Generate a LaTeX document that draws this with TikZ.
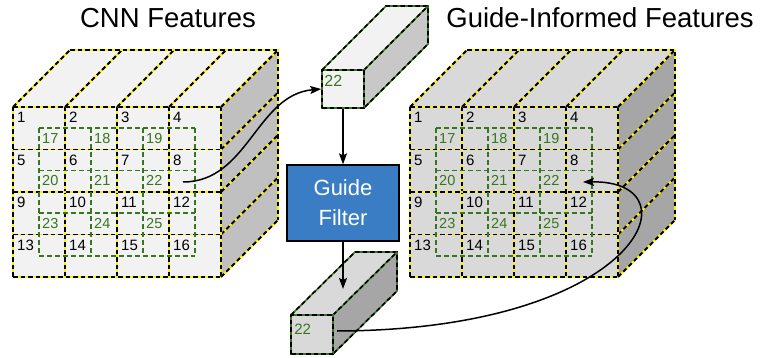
\documentclass[tikz,border=0pt]{standalone}
\usepackage{fontspec}
\setmainfont{Liberation Sans}
\usetikzlibrary{arrows.meta}

\definecolor{faceA}{RGB}{242,242,242}
\definecolor{sideA}{RGB}{192,192,192}
\definecolor{faceB}{RGB}{217,217,217}
\definecolor{sideB}{RGB}{166,166,166}
\definecolor{sideC}{RGB}{200,200,200}
\definecolor{winGreen}{RGB}{56,118,29}
\definecolor{filterBlue}{RGB}{58,125,196}

\begin{document}
\begin{tikzpicture}[x=1pt, y=-1pt,
    grid/.style = {draw=yellow, line width=1.8pt, postaction={draw=black, line width=1.8pt, dash pattern=on 4.5pt off 3pt}},
    bar/.style = {draw=winGreen, line width=1.6pt, postaction={draw=black, line width=1.6pt, dash pattern=on 4.5pt off 3pt}},
    win/.style = {draw=winGreen, line width=1.5pt, dash pattern=on 5pt off 3pt},
    num/.style = {anchor=north west, inner sep=0pt, font=\fontsize{15}{15}\selectfont},
    gnum/.style = {num, text=winGreen, font=\fontsize{14.5}{15}\selectfont},
    title/.style = {anchor=base, font=\fontsize{27.5}{30}\selectfont},
    filter/.style = {draw=black, line width=1.3pt, fill=filterBlue, text=white, align=center, minimum width=112pt, minimum height=76pt, font=\fontsize{22}{30}\selectfont},
    link/.style = {line width=1.5pt, -{Stealth[length=11pt, width=8pt, inset=2pt]}}]

    \useasboundingbox (0,0) rectangle (760,358);

    \node (cnn) [title] at (168,28) {CNN Features};
    \node (gif) [title] at (600,28) {Guide-Informed Features};

    \foreach \s/\ox/\fc/\sc in {L/13/faceA/sideA, R/410/faceB/sideB}
    {
      \fill [\fc] (\ox,107) -- ++(57,-57) -- ++(208,0) -- ++(-57,57) -- cycle;
      \fill [\sc] (\ox+208,107) -- ++(57,-57) -- ++(0,170) -- ++(-57,57) -- cycle;
      \fill [\fc] (\ox,107) rectangle ++(208,170);

      \foreach \i in {0,...,4}
      {
        \draw [grid] (\ox+52*\i,107) -- ++(0,170);
        \draw [grid] (\ox+52*\i,107) -- ++(57,-57);
        \draw [grid] (\ox,107+42.5*\i) -- ++(208,0);
        \draw [grid] (\ox+208,107+42.5*\i) -- ++(57,-57);
      }
      \draw [grid] (\ox+57,50) -- ++(208,0) -- ++(0,170);

      \foreach \i in {0,...,3}
      {
        \draw [win] (\ox+26+52*\i,128.25) -- ++(0,127.5);
        \draw [win] (\ox+26,128.25+42.5*\i) -- ++(156,0);
      }

      \foreach \x in {0,...,3}
      {
        \foreach \y in {0,...,3}
        {
          \pgfmathtruncatemacro{\idx}{\y * 4 + \x + 1}
          \node (\s\idx) [num] at (\ox+4+52*\x, 112+42.5*\y) {\idx};
        }
      }

      \foreach \x in {0,...,2}
      {
        \foreach \y in {0,...,2}
        {
          \pgfmathtruncatemacro{\idx}{\y * 3 + \x + 17}
          \node (\s\idx) [gnum] at (\ox+29+52*\x, 133+42.5*\y) {\idx};
        }
      }
    }

    \fill [faceA] (322,70) -- ++(64,-64) -- ++(42,0) -- ++(-64,64) -- cycle;
    \fill [sideC] (364,70) -- ++(64,-64) -- ++(0,38) -- ++(-64,64) -- cycle;
    \draw [bar] (322,70) -- ++(64,-64) -- ++(42,0) -- ++(0,38) -- ++(-64,64);
    \draw [bar] (364,70) -- ++(64,-64);
    \node (topbar) [bar, fill=faceA, minimum width=42pt, minimum height=38pt, inner sep=0pt] at (343,89) {};
    \node (top22) [gnum, font=\fontsize{16}{16}\selectfont] at ([shift={(3,6)}]topbar.north west) {22};

    \node (gf) [filter] at (343,203) {Guide\\Filter};

    \fill [faceB] (291,315) -- ++(64,-63) -- ++(42,0) -- ++(-64,63) -- cycle;
    \fill [sideB] (333,315) -- ++(64,-63) -- ++(0,39) -- ++(-64,63) -- cycle;
    \draw [bar] (291,315) -- ++(64,-63) -- ++(42,0) -- ++(0,39) -- ++(-64,63);
    \draw [bar] (333,315) -- ++(64,-63);
    \node (botbar) [bar, fill=faceB, minimum width=42pt, minimum height=39pt, inner sep=0pt] at (312,334.5) {};
    \node (bot22) [gnum, font=\fontsize{15}{15}\selectfont] at ([shift={(4,10)}]botbar.north west) {22};

    \coordinate (lsrc) at (183,182);
    \coordinate (botin) at (343,289);
    \coordinate (bsrc) at (337,331);
    \coordinate (rdst) at (583,182);

    \draw [link] (topbar.south) -- (gf.north);
    \draw [link] (gf.south) -- (botin);
    \draw [link] (lsrc) to [out=0, in=185] (topbar.west);
    \draw [link] (bsrc) .. controls (640,330) and (700,180) .. (rdst);
  \end{tikzpicture}
\end{document}
